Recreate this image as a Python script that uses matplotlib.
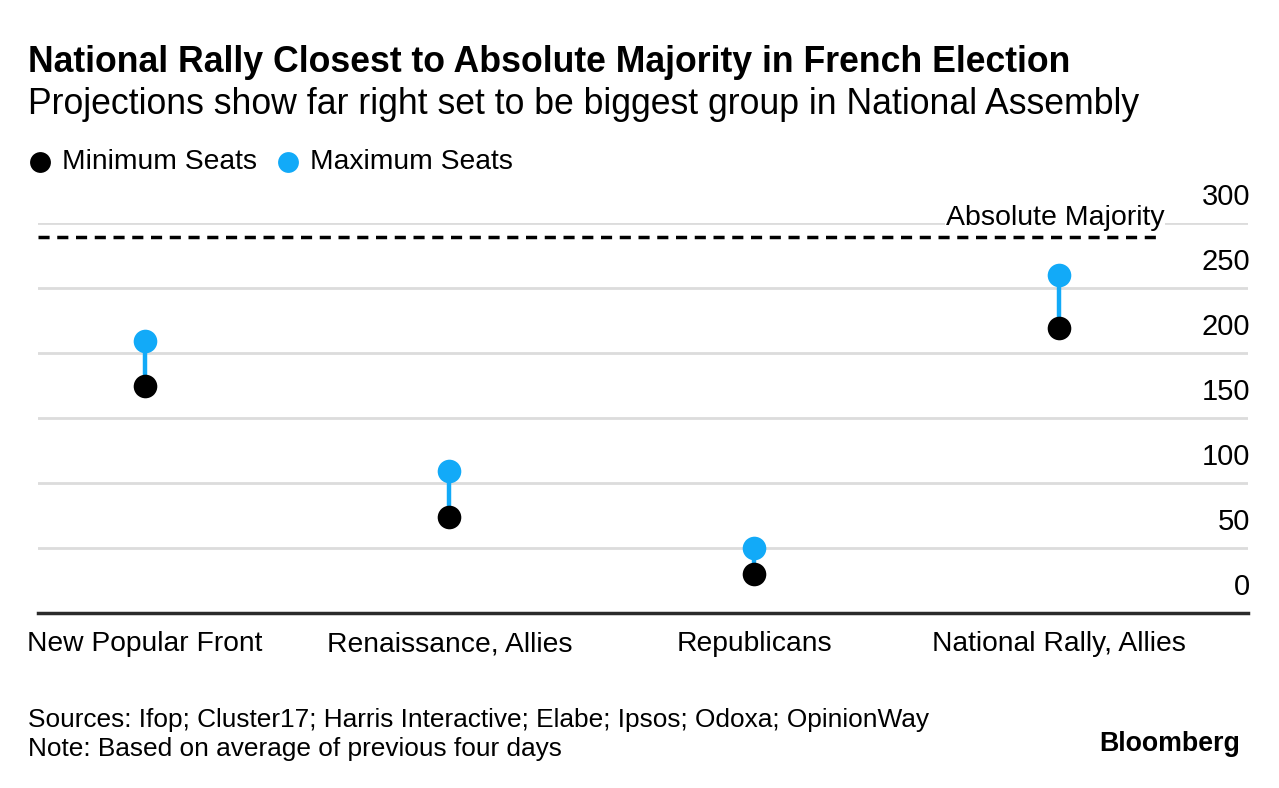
import matplotlib
matplotlib.use("Agg")
import matplotlib.pyplot as plt
from matplotlib import transforms
from matplotlib.lines import Line2D

plt.rcParams['font.family'] = ['Liberation Sans', 'DejaVu Sans']

categories = ["New Popular Front", "Renaissance, Allies", "Republicans", "National Rally, Allies"]
min_seats = [175, 74, 30, 219]
max_seats = [209, 109, 50, 260]
majority = 289
yticks = [0, 50, 100, 150, 200, 250, 300]

BLUE = "#12AAF8"

fig = plt.figure(figsize=(12.79, 7.88), dpi=100)
W, H = 1279, 788
ax = fig.add_axes([38 / W, (H - 613) / H, (1248 - 38) / W, (613 - 223) / H])

x = list(range(len(categories)))
ax.set_xlim(-0.35, 3.62)
ax.set_ylim(0, 300)

for yv in yticks[1:]:
    ax.axhline(yv, color="#DCDCDC", lw=2.0, zorder=1)
ax.axhline(0, color="#2b2b2b", lw=2.5, zorder=2, clip_on=False)

ax.vlines(x, min_seats, max_seats, color=BLUE, lw=3.2, zorder=3)
ax.plot(x, max_seats, "o", color=BLUE, ms=17, mec="none", zorder=4, clip_on=False)
ax.plot(x, min_seats, "o", color="black", ms=17, mec="none", zorder=5, clip_on=False)

# Absolute majority line
ax.plot([-0.35, 3.33], [majority, majority], color="black", lw=2.5,
        dashes=(3.2, 2.2), zorder=7, solid_capstyle="butt")
ax.text(3.345, 300, "Absolute Majority", ha="right", va="center", fontsize=20.5,
        transform=ax.transData + transforms.ScaledTranslation(0, 5 / 100, fig.dpi_scale_trans),
        bbox=dict(facecolor="white", edgecolor="none", pad=0.5), zorder=6)

# y tick labels (right, above gridlines)
off = transforms.ScaledTranslation(0, 26 / 100, fig.dpi_scale_trans)
btrans = transforms.blended_transform_factory(ax.transAxes, ax.transData)
for yv in yticks:
    ax.text(1.002, yv, str(yv), ha="right", va="center", fontsize=21,
            transform=btrans + off)

ax.set_xticks(x)
ax.set_xticklabels(categories, fontsize=20.3)
ax.tick_params(axis="x", length=0, pad=13)
ax.set_yticks([])
for s in ax.spines.values():
    s.set_visible(False)

# Titles
fig.text(28 / W, 1 - 63 / H, "National Rally Closest to Absolute Majority in French Election",
         fontsize=25.7, fontweight="bold", va="center", ha="left")
fig.text(28 / W, 1 - 104 / H, "Projections show far right set to be biggest group in National Assembly",
         fontsize=25.7, va="center", ha="left")

# Legend
fig.add_artist(Line2D([40 / W], [1 - 162 / H], marker="o", ms=15, color="black",
                      mec="none", transform=fig.transFigure))
fig.text(62 / W, 1 - 162 / H, "Minimum Seats", fontsize=20.3, va="center", ha="left")
fig.add_artist(Line2D([288 / W], [1 - 162 / H], marker="o", ms=15, color=BLUE,
                      mec="none", transform=fig.transFigure))
fig.text(310 / W, 1 - 162 / H, "Maximum Seats", fontsize=20.3, va="center", ha="left")

# Footer
fig.text(28 / W, 1 - 720 / H, "Sources: Ifop; Cluster17; Harris Interactive; Elabe; Ipsos; Odoxa; OpinionWay",
         fontsize=18.9, va="center", ha="left")
fig.text(28 / W, 1 - 749 / H, "Note: Based on average of previous four days",
         fontsize=18.9, va="center", ha="left")
fig.text(1240 / W, 1 - 744 / H, "Bloomberg", fontsize=19.3, fontweight="bold", va="center", ha="right")

fig.savefig("out.png", dpi=100)
